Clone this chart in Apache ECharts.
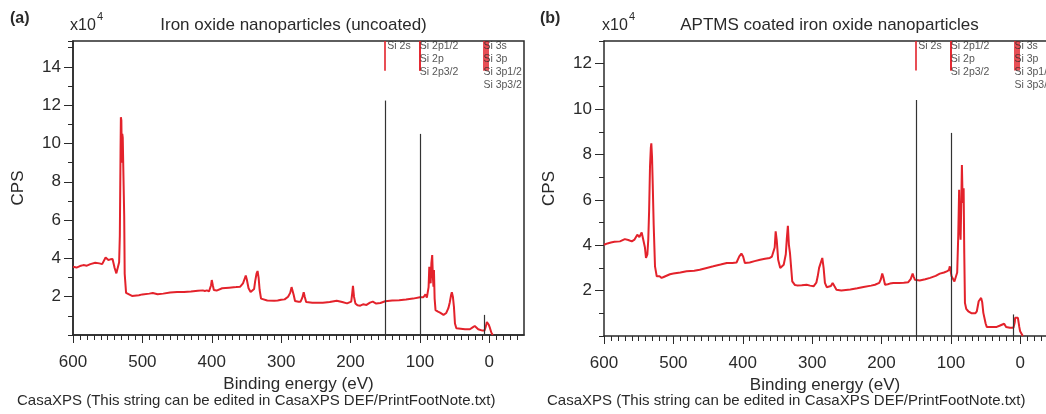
<!DOCTYPE html>
<html><head><meta charset="utf-8">
<script src="https://cdn.jsdelivr.net/npm/echarts@6/dist/echarts.min.js"></script>
<style>html,body{margin:0;padding:0;background:#fff}#c{width:1046px;height:414px}</style>
</head><body><div id="c"></div>
<script>
// ---- data (binding energy in eV, CPS in units of 10^4) ----
const energyA = [600,595,590,585,580,575,568,562,558,553,549,546,543,540,537.5,535,533.5,532.5,531.5,531,530.3,529.6,529,528.3,527.6,527,526.2,525.5,524.5,523.5,521,515,505,500,490,485,478,470,460,450,440,430,420,413,410,407,404,401,400,398.5,397,393,385,375,365,359,355,352.5,351,349.5,347,344,342,339,337.5,335.5,334,332.5,331,329,327,320,310,305,300,295,290,287,285,283.5,282,280,275,272,269.5,267.5,266,264,255,240,230,220,212,205,199,197.5,196.5,195,193,190,186,182,177,172,168,163,157,150,140,130,120,110,100,95,92,90,89,87.5,86.5,85.5,84.5,83.5,82.3,81.3,80.5,79.8,78.8,77.5,74,71,66,62,59,57,55,54,52.5,51,49.5,47.5,45,35,28,24,21,18.5,16,14,10,7,5,3.5,2.5,1,-0.5,-3,-5];
const cpsA = [3.56,3.52,3.6,3.65,3.62,3.7,3.77,3.74,3.7,4.05,3.92,3.95,3.97,3.5,3.22,3.3,3.8,5.2,9.5,11.37,11.2,9.0,10.5,10.3,8.9,9.0,6.2,3.2,3.1,2.2,2.1,2.04,2.08,2.12,2.16,2.19,2.13,2.16,2.22,2.24,2.25,2.27,2.31,2.33,2.3,2.33,2.28,2.6,2.87,2.6,2.35,2.32,2.44,2.47,2.5,2.52,2.7,2.95,3.1,2.9,2.44,2.25,2.23,2.4,2.8,3.2,3.34,3.0,2.35,1.9,1.83,1.8,1.79,1.8,1.84,1.86,2.0,2.2,2.5,2.52,2.1,1.78,1.74,1.74,1.95,2.23,2.0,1.72,1.69,1.69,1.72,1.79,1.72,1.65,1.74,2.2,2.57,2.0,1.65,1.55,1.53,1.6,1.57,1.69,1.74,1.64,1.67,1.76,1.8,1.82,1.85,1.9,1.97,1.97,2.12,1.95,1.86,2.5,3.56,3.0,2.7,3.74,4.17,3.0,2.52,3.39,1.9,1.3,1.22,1.17,1.05,1.15,1.4,1.7,2.1,2.23,2.0,1.48,0.6,0.35,0.3,0.3,0.3,0.4,0.47,0.47,0.3,0.23,0.23,0.23,0.45,0.68,0.7,0.55,0.41,0.12,0];

const energyB = [600,595,590,585,577,570,565,560,556,552,549,545.7,543.4,541,539.5,537.5,536.2,535,533.7,532.5,531.8,530.8,529.8,528.4,526.5,524,520,517,514,512,505,500,490,481,470,462,452,442.5,432,423,415,409,405,402,399.5,397,390,383,375,368,361,358,356,354,352.6,351,349,346,344,341,338,336.5,335,333.5,332,330,328.7,325,322,315,308,303,298,294,292,290,285.4,283.5,281.6,279,276.8,273,270.5,268,265,258,245,235,226,215,209.5,203.3,201,199,197.5,195,191,188,183,175,168,161.5,158,155.2,153.5,152,145,137,130,122,116,110,106,103,101.6,99.1,95,93,91,89.5,88.2,87.5,86.1,85,84.2,83.5,82.7,81.7,80.8,79.8,78,75,70,67.8,65,62.7,60,56.5,55,53.3,50,48.4,40,34,30,27.7,23.3,20.5,19.5,15,9.9,8,7.5,5,3.5,2.7,1.5,0.3,-3.6];
const cpsB = [4.02,4.08,4.12,4.15,4.17,4.27,4.23,4.17,4.25,4.46,4.36,4.56,4.24,3.9,3.44,3.6,4.24,5.5,7.46,8.3,8.49,7.9,6.73,4.9,3.07,2.63,2.63,2.56,2.6,2.67,2.72,2.75,2.8,2.85,2.88,2.92,3.0,3.07,3.15,3.22,3.22,3.24,3.51,3.63,3.5,3.22,3.24,3.3,3.36,3.4,3.44,3.5,3.58,3.9,4.61,4.2,3.36,3.0,2.92,3.14,3.6,4.3,4.86,4.0,3.66,2.9,2.41,2.25,2.23,2.24,2.26,2.22,2.19,2.35,2.63,3.0,3.44,3.0,2.34,2.15,2.12,2.2,2.34,2.2,2.04,2.01,2.05,2.1,2.16,2.22,2.26,2.34,2.5,2.75,2.6,2.26,2.28,2.31,2.34,2.34,2.35,2.37,2.51,2.75,2.6,2.48,2.45,2.5,2.56,2.65,2.75,2.8,2.85,2.9,3.07,2.63,2.4,2.34,2.8,4.39,6.44,5.0,4.24,6.0,7.54,6.5,5.86,6.51,3.66,1.46,1.2,1.09,1.0,0.95,1.0,1.09,1.53,1.68,1.5,1.02,0.55,0.4,0.4,0.4,0.45,0.51,0.54,0.4,0.36,0.36,0.36,0.6,0.8,0.87,0.8,0.73,0.4,0.21,0];

const xTickLabels = [600,500,400,300,200,100,0];
const yTickLabelsA = [2,4,6,8,10,12,14];
const yTickLabelsB = [2,4,6,8,10,12];
const xMinA = -50, xMinB = -37;   // panel (b) is cut off by the right edge of the image
const yMaxA = 15.35, yMaxB = 13.0;

// Si reference marker lines (eV) and their labels
const siMarkerEnergies = [150, 100.2, 99.6, 8.5, 5.2, 2.5];
const siLabelEnergies = [147, 100.2, 8.5];
const siLabelTexts = ['Si 2s', 'Si 2p1/2\nSi 2p\nSi 2p3/2', 'Si 3s\nSi 3p\nSi 3p1/2\nSi 3p3/2'];
const siMarkerBottomA = 13.8, siMarkerBottomB = 11.7;
// black component lines: [eV, top CPS]
const compLinesA = [[150, 12.24], [100, 10.5], [7, 1.05]];
const compLinesB = [[150, 10.4], [100, 8.95], [10, 0.95]];

const panelTitles = ['Iron oxide nanoparticles (uncoated)', 'APTMS coated iron oxide nanoparticles'];
const panelLetters = ['(a)', '(b)'];
const footNote = 'CasaXPS (This string can be edited in CasaXPS DEF/PrintFootNote.txt)';

// minor tick positions every 10 eV
const minorXTicks = [];
for (let v = -40; v <= 590; v += 10) minorXTicks.push(v);

// ---- chart ----
const FONT = '"Liberation Sans", Arial, Helvetica, sans-serif';
const INK = '#2a2a2a';
const RED = '#e3222b';
const chart = echarts.init(document.getElementById('c'), null, {renderer: 'canvas'});

const grids = [
  {left: 73, top: 41, width: 451, height: 294, show: true, borderColor: INK, borderWidth: 1.5},
  {left: 604, top: 41, width: 442, height: 295, show: false}
];

function mainX(gi, min) {
  return {
    type: 'value', gridIndex: gi, position: 'bottom', inverse: true, min: min, max: 600,
    name: 'Binding energy (eV)', nameLocation: 'middle', nameGap: 38,
    nameTextStyle: {fontFamily: FONT, fontSize: 17, color: INK},
    axisLine: {show: true, onZero: false, lineStyle: {color: INK, width: 1.5}},
    axisTick: {show: true, length: 8, lineStyle: {color: INK, width: 1}, customValues: xTickLabels},
    axisLabel: {show: true, margin: 19, fontFamily: FONT, fontSize: 17, color: INK, customValues: xTickLabels},
    splitLine: {show: false}
  };
}
function minorX(gi, min) {
  return {
    type: 'value', gridIndex: gi, position: 'bottom', offset: 0, inverse: true, min: min, max: 600,
    axisLine: {show: false, onZero: false}, axisLabel: {show: false}, splitLine: {show: false},
    axisTick: {show: true, length: 5, lineStyle: {color: INK, width: 1}, customValues: minorXTicks}
  };
}
function topX(gi, min) {
  return {
    type: 'value', gridIndex: gi, position: 'top', inverse: true, min: min, max: 600,
    axisLine: {show: true, onZero: false, lineStyle: {color: INK, width: 1.5}},
    axisTick: {show: false}, axisLabel: {show: false}, splitLine: {show: false}
  };
}
function mainY(gi, max, labels) {
  return {
    type: 'value', gridIndex: gi, position: 'left', min: 0, max: max,
    name: 'CPS', nameLocation: 'middle', nameGap: 46,
    nameTextStyle: {fontFamily: FONT, fontSize: 17, color: INK},
    axisLine: {show: true, onZero: false, lineStyle: {color: INK, width: 1.5}},
    axisTick: {show: true, length: 9, lineStyle: {color: INK, width: 1}, customValues: labels},
    axisLabel: {show: true, margin: 12, fontFamily: FONT, fontSize: 17, color: INK, customValues: labels},
    splitLine: {show: false}
  };
}
function minorY(gi, max) {
  return {
    type: 'value', gridIndex: gi, position: 'left', offset: 0, min: 0, max: max, interval: 1,
    axisLine: {show: false, onZero: false}, axisLabel: {show: false}, splitLine: {show: false},
    axisTick: {show: true, length: 5, lineStyle: {color: INK, width: 1}}
  };
}

// x axis indices: 0 main(a), 1 minor(a), 2 main(b), 3 minor(b), 4 top(b)
function panelSeries(p, energy, cps, yMax, markerBottom, compLines) {
  const xi = p * 2, yi = p * 2;
  return [
    {
      type: 'line', xAxisIndex: xi, yAxisIndex: yi, showSymbol: false, symbol: 'none',
      data: energy.map((e, i) => [e, cps[i]]),
      lineStyle: {color: RED, width: 2}, itemStyle: {color: RED}, silent: true, animation: false, z: 3
    },
    {
      type: 'line', xAxisIndex: xi, yAxisIndex: yi, data: [], silent: true, animation: false,
      markLine: {
        silent: true, symbol: 'none', animation: false, label: {show: false},
        data: compLines.map(c => [{coord: [c[0], c[1]], lineStyle: {color: '#333', width: 1.2, type: 'solid'}}, {coord: [c[0], 0]}])
          .concat(siMarkerEnergies.map(e => [{coord: [e, yMax], lineStyle: {color: RED, width: 1.6, type: 'solid'}}, {coord: [e, markerBottom]}]))
      }
    },
    {
      type: 'scatter', xAxisIndex: xi, yAxisIndex: yi, symbolSize: 0, silent: true, animation: false,
      data: siLabelEnergies.map((e, i) => ({value: [e, yMax], name: siLabelTexts[i]})),
      label: {
        show: true, position: [0, -1], align: 'left', verticalAlign: 'top',
        formatter: d => d.name, fontFamily: FONT, fontSize: 10.5, lineHeight: 13, color: INK
      }, z: 5
    }
  ];
}

function txt(x, y, text, size, style) {
  return {
    type: 'text', x: x, y: y, silent: true,
    style: Object.assign({text: text, font: size + 'px ' + FONT, fill: INK, align: 'left', verticalAlign: 'middle'}, style || {})
  };
}

const graphics = [
  txt(10, 19, panelLetters[0], 16, {font: 'bold 16px ' + FONT}),
  txt(70, 26, 'x10', 16),
  txt(97, 17, '4', 11),
  txt(293.5, 25, panelTitles[0], 17, {align: 'center'}),
  txt(17, 401, footNote, 15),
  txt(540, 19, panelLetters[1], 16, {font: 'bold 16px ' + FONT}),
  txt(602, 26, 'x10', 16),
  txt(629, 17, '4', 11),
  txt(829.5, 25, panelTitles[1], 17, {align: 'center'}),
  txt(547, 401, footNote, 15)
];

chart.setOption({
  animation: false,
  backgroundColor: '#ffffff',
  grid: grids.map(g => Object.assign({backgroundColor: 'transparent', containLabel: false}, g)),
  xAxis: [mainX(0, xMinA), minorX(0, xMinA), mainX(1, xMinB), minorX(1, xMinB), topX(1, xMinB)],
  yAxis: [mainY(0, yMaxA, yTickLabelsA), minorY(0, yMaxA), mainY(1, yMaxB, yTickLabelsB), minorY(1, yMaxB)],
  series: [].concat(
    panelSeries(0, energyA, cpsA, yMaxA, siMarkerBottomA, compLinesA),
    panelSeries(1, energyB, cpsB, yMaxB, siMarkerBottomB, compLinesB)
  ),
  graphic: graphics
});
</script>
</body></html>
